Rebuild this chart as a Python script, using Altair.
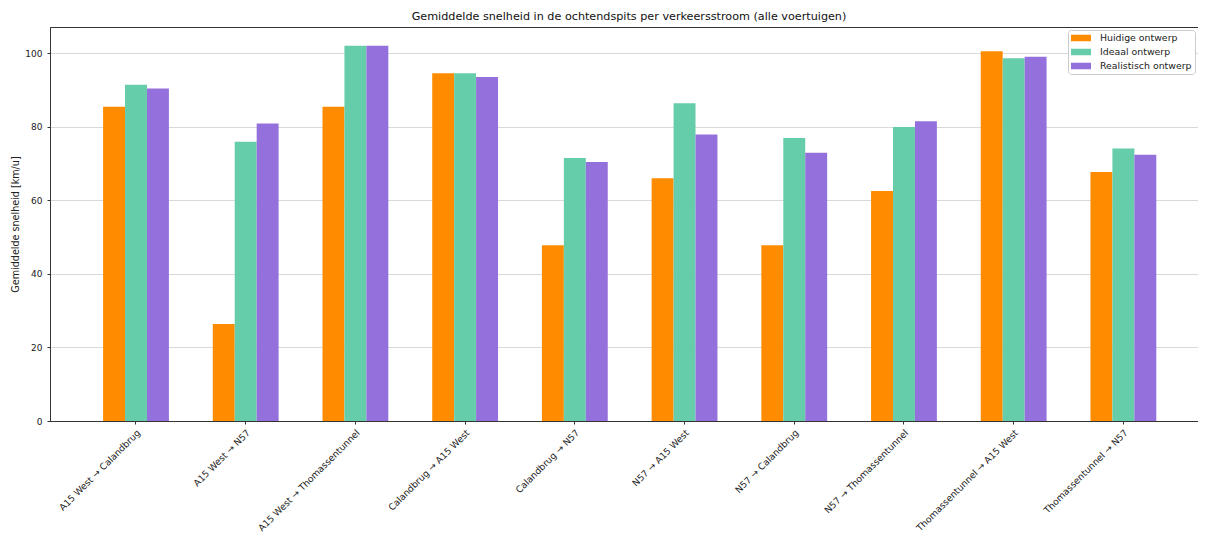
import altair as alt
import pandas as pd

flows = [
    "A15 West → Calandbrug",
    "A15 West → N57",
    "A15 West → Thomassentunnel",
    "Calandbrug → A15 West",
    "Calandbrug → N57",
    "N57 → A15 West",
    "N57 → Calandbrug",
    "N57 → Thomassentunnel",
    "Thomassentunnel → A15 West",
    "Thomassentunnel → N57",
]
designs = ["Huidige ontwerp", "Ideaal ontwerp", "Realistisch ontwerp"]
huidige = [85.4, 26.4, 85.4, 94.5, 47.8, 66.0, 47.8, 62.5, 100.5, 67.7]
ideaal = [91.4, 75.9, 102.0, 94.5, 71.5, 86.4, 76.9, 79.9, 98.6, 74.1]
realistisch = [90.4, 80.9, 102.0, 93.5, 70.4, 77.9, 72.9, 81.5, 99.0, 72.4]
colors = ["#FF8C00", "#66CDAA", "#9370DB"]
y_ticks = [0, 20, 40, 60, 80, 100]

rows = []
for d, vals in zip(designs, [huidige, ideaal, realistisch]):
    for f, v in zip(flows, vals):
        rows.append({"flow": f, "design": d, "value": v})
df = pd.DataFrame(rows)

FONT = "DejaVu Sans"

chart = (
    alt.Chart(df)
    .mark_bar()
    .encode(
        x=alt.X(
            "flow:N",
            sort=flows,
            title=None,
            scale=alt.Scale(paddingInner=0.4, paddingOuter=0.432, align=0.56),
            axis=alt.Axis(
                labelAngle=-45,
                labelAlign="right",
                labelBaseline="top",
                labelFontSize=9.2,
                labelFont=FONT,
                labelColor="#222",
                labelPadding=4,
                tickSize=3,
                tickColor="#333",
                domainColor="#333",
                grid=False,
                labelLimit=300,
            ),
        ),
        xOffset=alt.XOffset("design:N", sort=designs),
        y=alt.Y(
            "value:Q",
            title="Gemiddelde snelheid [km/u]",
            scale=alt.Scale(domain=[0, 107.1], nice=False),
            axis=alt.Axis(
                values=y_ticks,
                labelFontSize=9,
                labelFont=FONT,
                labelColor="#222",
                labelPadding=5,
                titleFont=FONT,
                titleFontSize=9.6,
                titleFontWeight="normal",
                titleColor="#222",
                titlePadding=4,
                tickSize=3,
                tickColor="#333",
                domainColor="#333",
                gridColor="#d9d9d9",
                gridWidth=1,
            ),
        ),
        color=alt.Color(
            "design:N",
            sort=designs,
            scale=alt.Scale(domain=designs, range=colors),
            legend=alt.Legend(
                title=None,
                orient="top-right",
                offset=3,
                labelFont=FONT,
                labelFontSize=9.4,
                labelColor="#222",
                labelOffset=14,
                symbolType="M-2,-0.65L2,-0.65L2,0.65L-2,0.65Z",
                symbolSize=100,
                symbolOffset=5,
                symbolStrokeWidth=0,
                symbolOpacity=1,
                fillColor="white",
                strokeColor="#cccccc",
                padding=3,
                cornerRadius=3,
                rowPadding=4,
            ),
        ),
    )
    .properties(
        width=1148,
        height=394,
        title=alt.TitleParams(
            "Gemiddelde snelheid in de ochtendspits per verkeersstroom (alle voertuigen)",
            font=FONT,
            fontSize=11.2,
            fontWeight="normal",
            color="#111",
            offset=5,
            dx=5,
        ),
        autosize=alt.AutoSizeParams(type="none"),
        padding={"left": 42, "top": 19, "right": 0, "bottom": 122},
    )
    .configure_view(stroke="#333", strokeWidth=1)
)

chart.save("out.html", embed_options={"renderer": "svg", "actions": False})
